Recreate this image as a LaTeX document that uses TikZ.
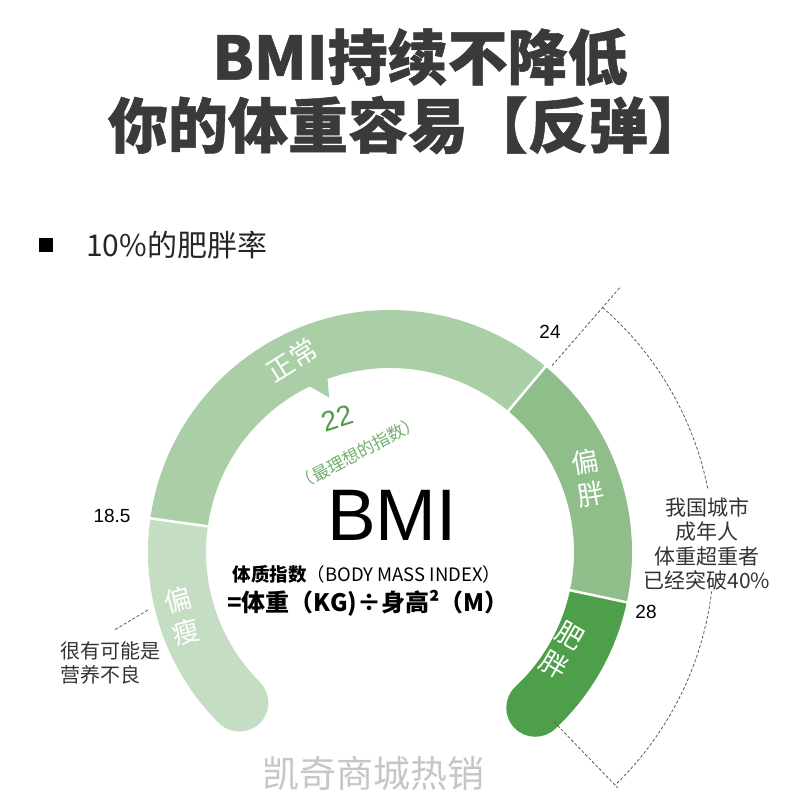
\documentclass[tikz,border=0pt]{standalone}
\usepackage{fontspec}
\setmainfont{Noto Sans CJK SC}
\newfontfamily\latf{Liberation Sans}
\newfontfamily\heavyf{Noto Sans CJK SC}[BoldFeatures={FakeBold=0.8}]
\usetikzlibrary{calc}

\definecolor{thingreen}{HTML}{C5DDC3}
\definecolor{normgreen}{HTML}{AACFA7}
\definecolor{overgreen}{HTML}{8FBE8B}
\definecolor{obesegreen}{HTML}{4E9F4A}
\definecolor{idealgreen}{HTML}{4F9A4B}
\definecolor{titlegray}{HTML}{3A3A3A}

\begin{document}
\begin{tikzpicture}[x=1pt, y=1pt,
  ring/.style={line width=58pt},
  sep/.style={white, line width=2.5pt},
  guide/.style={gray!70!black, line width=0.8pt, dash pattern=on 3pt off 2pt},
  seglbl/.style={white, align=center, inner sep=0pt, font=\fontsize{27}{33}\selectfont},
  ticklbl/.style={inner sep=0pt, font=\latf\fontsize{19}{22}\selectfont},
  note/.style={text=black!80, inner sep=0pt, font=\fontsize{20}{24}\selectfont}
]
\useasboundingbox (0,0) rectangle (800,800);

 %title
 \node[text=titlegray, font=\heavyf\fontsize{60}{64}\selectfont\bfseries] (title1) at (420,743) {BMI持续不降低};
 \node[text=titlegray, font=\heavyf\fontsize{60}{64}\selectfont\bfseries] (title2) at (408,675) {你的体重容易【反弹】};

 \node[fill=black, minimum size=14pt, inner sep=0pt] (bullet) at (46,555) {};
 \node[anchor=west, text=black!85, inner sep=0pt, font=\fontsize{30}{33}\selectfont] (rate) at (86,555) {10\%的肥胖率};

 %ring
 \def\R{213}
 \coordinate (C) at (390,248);

 \draw[ring, thingreen, line cap=round] ($(C)+(225:\R pt)$) arc[start angle=225, end angle=172, radius=\R pt];
 \draw[ring, obesegreen, line cap=round] ($(C)+(-12:\R pt)$) arc[start angle=-12, end angle=-47, radius=\R pt];
 \draw[ring, normgreen] ($(C)+(172:\R pt)$) arc[start angle=172, end angle=50, radius=\R pt];
 \draw[ring, overgreen] ($(C)+(50:\R pt)$) arc[start angle=50, end angle=-12, radius=\R pt];

 %pointer
 \fill[normgreen] ($(C)+(118:195pt)$) -- ($(C)+(109:195pt)$) -- ($(C)+(111.5:166pt)$) -- cycle;

 \foreach \a in {172, 50, -12} {
   \draw[sep] ($(C)+(\a:181pt)$) -- ($(C)+(\a:245pt)$);
 }

 %ring labels
 \node[seglbl, rotate=32] (normal) at (292,440) {正常};
 \node[seglbl, rotate=10] (over) at (588,322) {偏\\胖};
 \node[seglbl, rotate=-30] (obese) at (562,150) {肥\\胖};
 \node[seglbl, rotate=15] (thin) at (182,184) {偏\\瘦};

 \node[ticklbl] (t185) at (112,284) {18.5};
 \node[ticklbl] (t24) at (550,468) {24};
 \node[ticklbl] (t28) at (646,188) {28};

 \node[text=idealgreen, rotate=18, inner sep=0pt, font=\latf\fontsize{28}{30}\selectfont] (ideal) at (337,382) {22};
 \node[text=idealgreen!80, rotate=28, inner sep=0pt, font=\fontsize{17}{20}\selectfont] (idealtxt) at (358,347) {（最理想的指数）};

 %centre
 \node[inner sep=0pt, font=\latf\fontsize{73}{76}\selectfont] (bmi) at (392,285) {BMI};
 \node[inner sep=0pt, font=\fontsize{18.5}{21}\selectfont] (bminame) at (367,226) {\textbf{体质指数}（BODY MASS INDEX）};
 \node[inner sep=0pt, font=\fontsize{24}{27}\selectfont\bfseries] (formula) at (368,197) {=体重（KG)÷身高²（M）};

 %notes
 \node[note, align=left, anchor=west] (poor) at (60,137) {很有可能是\\营养不良};
 \coordinate (thinedge) at (148,190);
 \draw[guide] ($(poor.north)+(5,12)$) -- (thinedge);

 \node[note, align=center, font=\fontsize{21}{24.5}\selectfont] (urban) at (707,256) {我国城市\\成年人\\体重超重者\\已经突破40\%};

 \coordinate (g24a) at ($(C)+(49:247pt)$);
 \coordinate (g24b) at ($(C)+(49:352pt)$);
 \coordinate (g28a) at ($(C)+(-46:236pt)$);
 \coordinate (g28b) at ($(C)+(-46:328pt)$);
 \draw[guide] (g24a) -- (g24b);
 \draw[guide] (g28a) -- (g28b);
 \draw[guide] ($(C)+(49:324pt)$) arc[start angle=49, end angle=11, radius=324pt];
 \draw[guide] ($(C)+(-7:324pt)$) arc[start angle=-7, end angle=-46, radius=324pt];

 %watermark
 \node[text=gray!45, inner sep=0pt, font=\fontsize{37}{40}\selectfont] (mark) at (373,27) {凯奇商城热销};

\end{tikzpicture}
\end{document}
